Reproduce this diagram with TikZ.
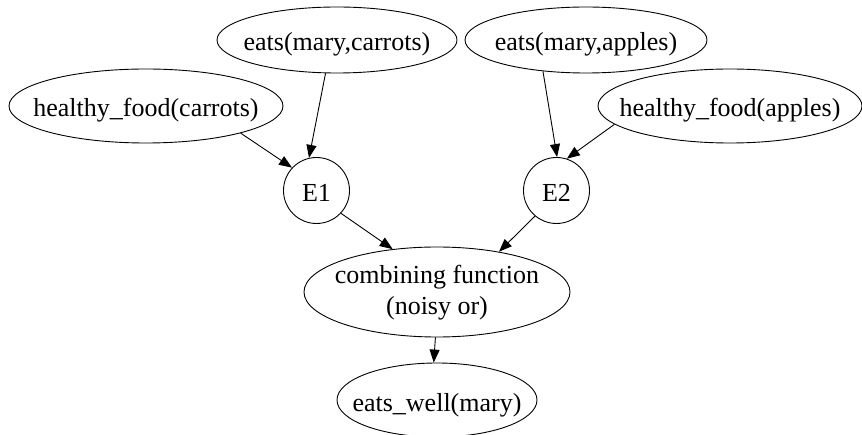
\documentclass[tikz,border=0pt]{standalone}
\usepackage{fontspec}
\setmainfont{Liberation Serif}
\usetikzlibrary{arrows.meta,shapes.geometric}
\newcommand\zw[2][-11pt]{\makebox[0pt]{\smash{\raisebox{#1}{#2}}}}
\begin{document}
\begin{tikzpicture}[x=1pt,y=1pt,
  every node/.style={font=\fontsize{26}{31}\selectfont, inner sep=0pt, draw, line width=0.9pt},
  ell/.style={ellipse},
  circ/.style={circle, minimum size=66pt},
  edge/.style={line width=0.9pt, -{Triangle[length=13pt,width=10pt]}}]
\useasboundingbox (0,0) rectangle (862,-435);
\node[ell, minimum width=240pt, minimum height=66pt] (ec) at (337,-40) {\zw{eats(mary,carrots)}};
\node[ell, minimum width=242pt, minimum height=66pt] (ea) at (586,-40) {\zw{eats(mary,apples)}};
\node[ell, minimum width=274pt, minimum height=74pt] (hc) at (146,-106) {\zw{healthy\_food(carrots)}};
\node[ell, minimum width=264pt, minimum height=74pt] (ha) at (730,-106) {\zw{healthy\_food(apples)}};
\node[circ] (e1) at (316.5,-190.5) {\zw{E1}};
\node[circ] (e2) at (556.5,-190.5) {\zw{E2}};
\node[ell, minimum width=266pt, minimum height=90pt] (cf) at (437,-292) {\zw[-7pt]{\begin{tabular}{@{}c@{}}combining function\\(noisy or)\end{tabular}}};
\node[ell, minimum width=200pt, minimum height=74pt] (ew) at (437,-400) {\zw{eats\_well(mary)}};
\draw[edge] (ec.-109) -- (e1.103);
\draw[edge] (hc.-16) -- (e1.137);
\draw[edge] (ea.-144) -- (e2.89);
\draw[edge] (ha.-171) -- (e2.72);
\draw[edge] (e1.-43) -- (cf.136);
\draw[edge] (e2.-130) -- (cf.33);
\draw[edge] (cf.-92) -- (ew.95);
\end{tikzpicture}
\end{document}
